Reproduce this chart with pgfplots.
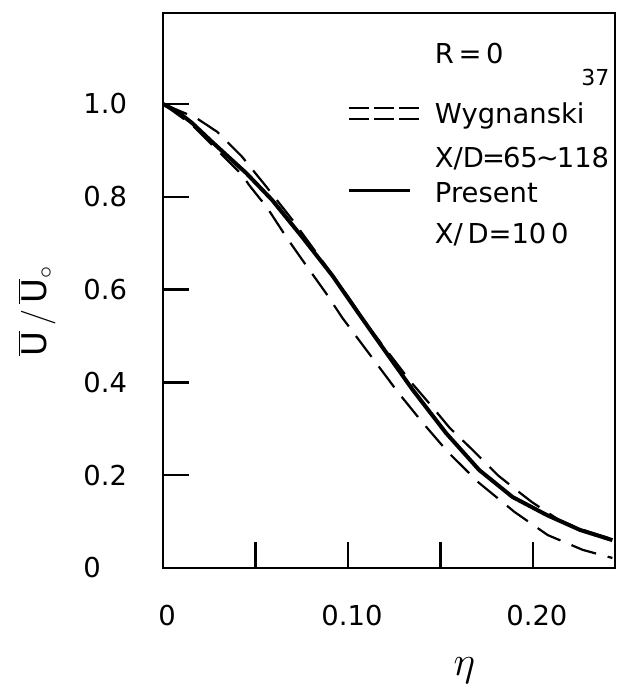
\documentclass[border=0pt]{standalone}
\usepackage{pgfplots}
\pgfplotsset{compat=1.18}
\usepackage{pgfplotstable}
\usepackage{fontspec}
\setmainfont{DejaVu Sans}

% present profile, X/D=100
\pgfplotstableread{
x y
0 1.000
0.008 0.983
0.0157 0.959
0.0266 0.918
0.045 0.851
0.059 0.793
0.0753 0.713
0.0916 0.630
0.105 0.553
0.117 0.485
0.135 0.384
0.153 0.291
0.171 0.211
0.189 0.153
0.2076 0.114
0.2255 0.082
0.243 0.060
}\present

% Wygnanski, upper bound
\pgfplotstableread{
x y
0 1.000
0.0179 0.970
0.0293 0.940
0.0428 0.886
0.0558 0.822
0.070 0.750
0.085 0.668
0.100 0.585
0.112 0.515
0.124 0.453
0.134 0.401
0.145 0.350
0.155 0.302
0.1675 0.254
0.181 0.200
0.193 0.162
0.1995 0.142
0.2135 0.105
0.2255 0.084
0.243 0.062
}\wygup

% Wygnanski, lower bound
\pgfplotstableread{
x y
0 1.000
0.0157 0.955
0.032 0.890
0.0428 0.847
0.0466 0.825
0.0564 0.776
0.0667 0.713
0.0753 0.664
0.088 0.593
0.097 0.539
0.118 0.427
0.127 0.379
0.140 0.315
0.154 0.250
0.171 0.183
0.190 0.121
0.208 0.071
0.227 0.039
0.243 0.0216
}\wyglo

\begin{document}
\begin{tikzpicture}[font=\fontsize{13.7}{16}\selectfont]
\begin{axis}[
  scale only axis, width=226pt, height=277.5pt,
  xmin=0, xmax=0.2444, ymin=0, ymax=1.196,
  axis line style={line width=1.4pt},
  tick style={line width=1.2pt, black},
  major tick length=13pt,
  tick pos=left, tick align=inside,
  xtick={0,0.05,0.1,0.15,0.2},
  xticklabels={0,,0.10,,0.20},
  ytick={0,0.2,0.4,0.6,0.8,1.0},
  yticklabels={0,0.2,0.4,0.6,0.8,1.0},
  xticklabel style={anchor=north, inner sep=0pt, yshift=-18.5pt, xshift=2pt},
  yticklabel style={anchor=west, inner sep=0pt, xshift=-40pt},
  xlabel={\fontsize{22}{24}\selectfont$\eta$},
  xlabel style={at={(axis description cs:0.667,0)}, anchor=base, yshift=-53.5pt},
  ylabel={\fontsize{17}{20}\selectfont$\overline{\mbox{U}}\mkern3mu/\mkern3mu\overline{\mbox{U}}_{\circ}$},
  ylabel style={at={(axis description cs:0,0.463)}, anchor=base, yshift=58pt},
  legend style={draw=none, fill=none, inner sep=0pt, at={(axis description cs:0.407,0.946)}, anchor=north west,
    column sep=7pt, row sep=0pt, nodes={inner sep=0pt}, cells={anchor=base west}},
]
\addlegendimage{empty legend}
\addlegendentry{\smash{R\,=\,0}\rule{0pt}{10pt}}
\addplot[black, line width=1.1pt, dash pattern=on 13pt off 6pt,
  legend image code/.code={
    \draw[line width=1.1pt, dash pattern=on 10pt off 2.5pt] (0pt,2.25pt) -- (35.5pt,2.25pt);
    \draw[line width=1.1pt, dash pattern=on 10pt off 2.5pt] (0pt,7.75pt) -- (35.5pt,7.75pt);}]
  table[x=x, y=y] {\wygup};
\addlegendentry{\smash{Wygnanski\kern-1.5pt\raisebox{19pt}{\fontsize{11}{12}\selectfont 37}}\rule{0pt}{28.5pt}}
\addplot[black, line width=1.1pt, dash pattern=on 13pt off 6pt, forget plot]
  table[x=x, y=y] {\wyglo};
\addlegendimage{empty legend}
\addlegendentry{\smash{X/D\kern-1pt=\kern-1pt65\kern-1pt∼\kern-1pt118}\rule{0pt}{20.5pt}}
\addplot[black, line width=2pt,
  legend image code/.code={
    \draw[line width=1.5pt] (0pt,6pt) -- (30.5pt,6pt);}]
  table[x=x, y=y] {\present};
\addlegendentry{\smash{Present}\rule{0pt}{16pt}}
\addlegendimage{empty legend}
\addlegendentry{\smash{X/\,D=10\,0}\rule{0pt}{19pt}}
\end{axis}
\pgfresetboundingbox
\useasboundingbox (-81.5pt,-64pt) rectangle (227.5pt,284pt);
\end{tikzpicture}
\end{document}
